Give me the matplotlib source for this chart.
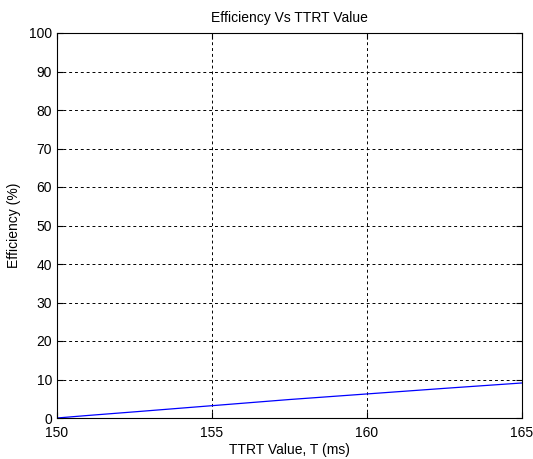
import matplotlib
matplotlib.use("Agg")
import matplotlib.pyplot as plt

# valores
ttrt = [150, 151, 152.5, 155, 157.5, 160, 162.5, 165]
eficiencia = [0, 0.66, 1.6, 3.2, 4.8, 6.25, 7.7, 9.1]

plt.rcParams['font.family'] = ['Liberation Sans', 'DejaVu Sans']
plt.rcParams['font.size'] = 10

fig = plt.figure(figsize=(5.33, 4.59), dpi=100)
ax = fig.add_axes([57 / 533, 1 - 418 / 459, 465 / 533, 385 / 459])

ax.plot(ttrt, eficiencia, color="blue", linewidth=0.9)

ax.set_xlim(150, 165)
ax.set_ylim(0, 100)
ax.set_xticks([150, 155, 160, 165])
ax.set_yticks(range(0, 101, 10))
ax.grid(True, color="black", linestyle=(0, (3, 3)), linewidth=0.7)
ax.tick_params(direction="in", top=True, right=True, length=4, labelsize=10)
ax.tick_params(axis="x", pad=6)
for s in ax.spines.values():
    s.set_linewidth(0.8)

ax.set_xlabel("TTRT Value, T (ms)", fontsize=10, labelpad=2)
ax.set_ylabel("Efficiency (%)", fontsize=10, labelpad=6)
ax.set_title("Efficiency Vs TTRT Value", fontsize=10, pad=8)

fig.savefig("out.png", dpi=100)
